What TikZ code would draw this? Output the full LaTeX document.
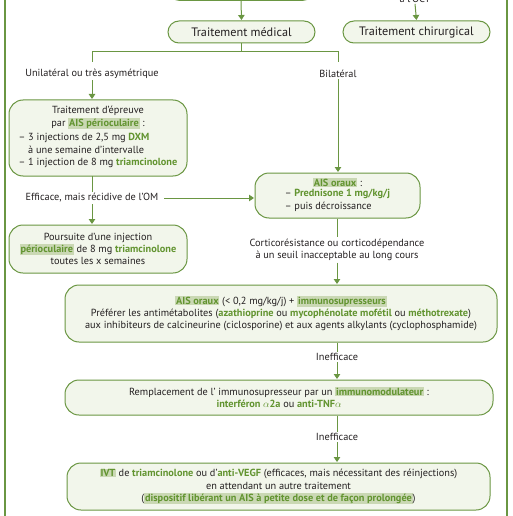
\documentclass[tikz,border=0pt]{standalone}
\usepackage{fontspec}
\setmainfont{PT Sans}
\usetikzlibrary{arrows.meta}
\definecolor{gline}{RGB}{106,150,66}
\definecolor{gfill}{RGB}{242,246,235}
\definecolor{ghl}{RGB}{202,216,180}
\definecolor{gtxt}{RGB}{98,148,48}
\definecolor{txt}{RGB}{35,31,32}
\newcommand\gb[1]{\textcolor{gtxt}{\textbf{#1}}}
\newcommand\hl[1]{{\setlength\fboxsep{0.8pt}\colorbox{ghl}{\gb{#1}}}}
\begin{document}
\begin{tikzpicture}[x=1pt,y=-1pt,
  box/.style={draw=gline, line width=1pt, fill=gfill, rounded corners=12pt, align=center,
    inner sep=2pt, font=\fontsize{10.3}{12.4}\selectfont, text=txt},
  bigfont/.style={font=\fontsize{12.2}{14}\selectfont},
  lbl/.style={font=\fontsize{10.3}{12.4}\selectfont, text=txt, align=center, inner sep=1.5pt},
  ln/.style={draw=gline, line width=1pt},
  arr/.style={draw=gline, line width=1pt, -{Triangle[length=5pt,width=6.5pt]}, shorten >=0.5pt}]
\useasboundingbox (0,0) rectangle (513,516);
% side lines
\draw[gline, line width=1.3pt] (5,-5) -- (5,520);
\draw[gline, line width=1.3pt] (507,-5) -- (507,520);
% top partial box and text
\node[box, anchor=south, minimum width=148pt, minimum height=40pt] (top) at (241,0.8) {};
\node[lbl, anchor=base] (oct) at (415,3) {à l’OCT};
% first row
\node[box, bigfont, minimum width=147pt, minimum height=22pt, rounded corners=11pt] (med) at (241.5,32) {Traitement médical};
\node[box, bigfont, minimum width=147pt, minimum height=22pt, rounded corners=11pt] (chir) at (416.5,32) {Traitement chirurgical};
\draw[arr] (top.south) -- (med.north);
\draw[arr] (oct.south) ++(0,-1) -- (chir.north);
% branch
\coordinate (bl) at (92,52);
\coordinate (br) at (338,52);
\node[lbl] (unil) at (92,74) {Unilatéral ou très asymétrique};
\node[lbl] (bil) at (338,74) {Bilatéral};
\draw[ln] (med.south) -- (med.south |- bl) -- (bl) -- ++(0,10);
\draw[ln] (med.south |- bl) -- (br) -- ++(0,10);
% left column
\node[box, minimum width=178pt, minimum height=76pt, rounded corners=14pt] (epr) at (98,138)
  {Traitement d’épreuve\\ par \hl{AIS périoculaire} :\\[2pt]
   \begin{tabular}{@{}l@{}}– 3 injections de 2,5 mg \gb{DXM}\\ \phantom{– }à une semaine d’intervalle\\ – 1 injection de 8 mg \gb{triamcinolone}\end{tabular}};
\draw[arr] (unil.south) -- (unil.south |- epr.north);
\node[lbl] (eff) at (92,198) {Efficace, mais récidive de l’OM};
\draw[ln] (92,176) -- (eff.north);
\node[box, minimum width=178pt, minimum height=48pt, rounded corners=14pt] (pours) at (98,249)
  {Poursuite d’une injection\\ \hl{périoculaire} de 8 mg \gb{triamcinolone}\\ toutes les x semaines};
\draw[arr] (eff.south) -- (eff.south |- pours.north);
% right column
\node[box, minimum width=165pt, minimum height=45pt, rounded corners=14pt] (ora) at (337.5,195.5)
  {\hl{AIS oraux} :\\ \begin{tabular}{@{}l@{}}– \gb{Prednisone 1 mg/kg/j}\\ – puis décroissance\end{tabular}};
\draw[arr] (bil.south) -- (bil.south |- ora.north);
\draw[arr] ([xshift=4pt]eff.east) -- (eff.east -| ora.west);
\node[lbl] (cort) at (337,250) {Corticorésistance ou corticodépendance\\ à un seuil inacceptable au long cours};
\draw[ln] (ora.south -| cort.north) -- (cort.north);
% big boxes
\node[box, minimum width=432pt, minimum height=57pt, rounded corners=14pt] (big) at (281,313.5)
  {\hl{AIS oraux} (< 0,2 mg/kg/j) + \hl{immunosupresseurs}\\
   Préférer les antimétabolites (\gb{azathioprine} ou \gb{mycophénolate mofétil} ou \gb{méthotrexate})\\
   aux inhibiteurs de calcineurine (ciclosporine) et aux agents alkylants (cyclophosphamide)};
\draw[arr] (cort.south) -- (cort.south |- big.north);
\node[lbl] (inef1) at (337,357) {Inefficace};
\draw[ln] (big.south -| inef1.north) -- (inef1.north);
\node[box, minimum width=428pt, minimum height=35pt, rounded corners=14pt] (rep) at (279,397.5)
  {Remplacement de l’ immunosupresseur par un \hl{immunomodulateur} :\\
   \gb{interféron $\alpha$2a} ou \gb{anti-TNF$\alpha$}};
\draw[arr] (inef1.south) -- (inef1.south |- rep.north);
\node[lbl] (inef2) at (337,437) {Inefficace};
\draw[ln] (rep.south -| inef2.north) -- (inef2.north);
\node[box, minimum width=423pt, minimum height=47pt, rounded corners=14pt] (ivt) at (278.5,486.5)
  {\hl{IVT} de \gb{triamcinolone} ou d’\gb{anti-VEGF} (efficaces, mais nécessitant des réinjections)\\
   en attendant un autre traitement\\
   (\hl{dispositif libérant un AIS à petite dose et de façon prolongée})};
\draw[arr] (inef2.south) -- (inef2.south |- ivt.north);
\end{tikzpicture}
\end{document}
